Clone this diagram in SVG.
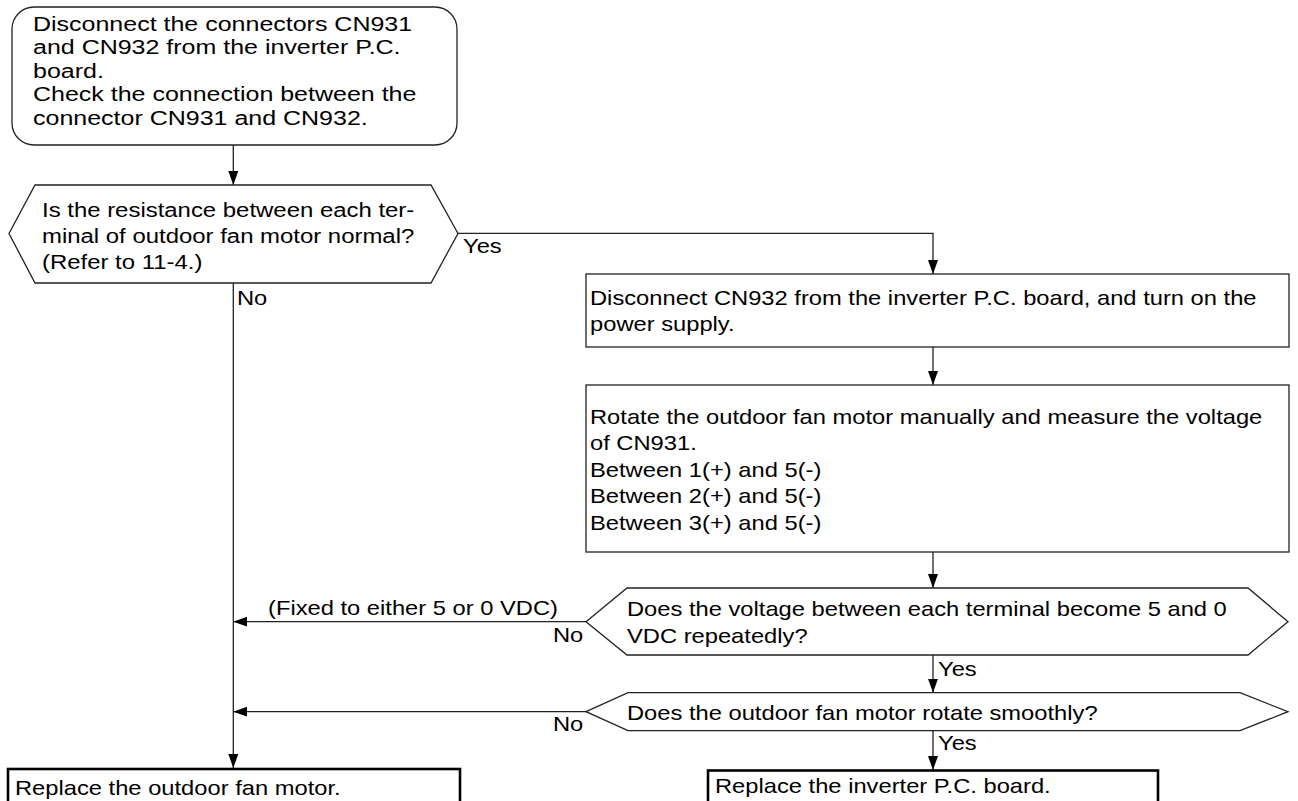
<svg xmlns="http://www.w3.org/2000/svg" width="1298" height="801" viewBox="0 0 1298 801">
<style>
.t{font-family:"Liberation Sans",Arial,sans-serif;font-size:21px;fill:#000}
.tt{font-family:"Liberation Sans",Arial,sans-serif;font-size:20px;fill:#000}
.s{fill:#fff;stroke:#222;stroke-width:1.3}
.b{fill:#fff;stroke:#000;stroke-width:2.6}
.c{fill:none;stroke:#222;stroke-width:1.3}
</style>
<defs>
<marker id="ah" markerUnits="userSpaceOnUse" markerWidth="16" markerHeight="12" refX="14" refY="5" orient="auto" viewBox="0 0 16 10">
<path d="M0,0 L14,5 L0,10 Z" fill="#000"/>
</marker>
</defs>
<rect width="1298" height="801" fill="#fff"/>

<g id="connectors">
<line class="c" x1="233.3" y1="145" x2="233.3" y2="185" marker-end="url(#ah)"/>
<polyline class="c" points="458,233.3 933,233.3 933,274" marker-end="url(#ah)"/>
<line class="c" x1="933" y1="347" x2="933" y2="385" marker-end="url(#ah)"/>
<line class="c" x1="933" y1="552" x2="933" y2="588" marker-end="url(#ah)"/>
<line class="c" x1="933" y1="655" x2="933" y2="692.7" marker-end="url(#ah)"/>
<line class="c" x1="933" y1="730.7" x2="933" y2="770" marker-end="url(#ah)"/>
<line class="c" x1="233.3" y1="283" x2="233.3" y2="768" marker-end="url(#ah)"/>
<line class="c" x1="586" y1="621.7" x2="233.3" y2="621.7" marker-end="url(#ah)"/>
<line class="c" x1="586" y1="711.7" x2="233.3" y2="711.7" marker-end="url(#ah)"/>
<text class="t" transform="translate(463,253) scale(1.13,1)">Yes</text>
<text class="t" transform="translate(237,305) scale(1.13,1)">No</text>
<text class="t" transform="translate(268,615) scale(1.13,1)">(Fixed to either 5 or 0 VDC)</text>
<text class="t" transform="translate(553,642) scale(1.13,1)">No</text>
<text class="t" transform="translate(553,731) scale(1.13,1)">No</text>
<text class="t" transform="translate(938,676) scale(1.13,1)">Yes</text>
<text class="t" transform="translate(938,750) scale(1.13,1)">Yes</text>
</g>

<g id="start">
<rect class="s" x="12" y="7" width="445" height="138" rx="22" ry="22"/>
<text class="tt" transform="translate(33,30.7) scale(1.25,1)"><tspan x="0" y="0">Disconnect the connectors CN931</tspan><tspan x="0" y="23.6">and CN932 from the inverter P.C.</tspan><tspan x="0" y="47.2">board.</tspan><tspan x="0" y="70.8">Check the connection between the</tspan><tspan x="0" y="94.4">connector CN931 and CN932.</tspan></text>
</g>

<g id="dec1">
<polygon class="s" points="9,233.5 35,185 431,185 458,233.5 431,283 35,283"/>
<text class="t" transform="translate(42,217) scale(1.14,1)"><tspan x="0" y="0">Is the resistance between each ter-</tspan><tspan x="0" y="26.5">minal of outdoor fan motor normal?</tspan><tspan x="0" y="52">(Refer to 11-4.)</tspan></text>
</g>

<g id="box1">
<rect class="s" x="586" y="274" width="703" height="73"/>
<text class="t" transform="translate(590,305) scale(1.13,1)"><tspan x="0" y="0">Disconnect CN932 from the inverter P.C. board, and turn on the</tspan><tspan x="0" y="26.5">power supply.</tspan></text>
</g>

<g id="box2">
<rect class="s" x="586" y="385" width="703" height="167"/>
<text class="t" transform="translate(590,424) scale(1.13,1)"><tspan x="0" y="0">Rotate the outdoor fan motor manually and measure the voltage</tspan><tspan x="0" y="26.5">of CN931.</tspan><tspan x="0" y="53">Between 1(+) and 5(-)</tspan><tspan x="0" y="79.5">Between 2(+) and 5(-)</tspan><tspan x="0" y="106">Between 3(+) and 5(-)</tspan></text>
</g>

<g id="dec2">
<polygon class="s" points="586,621.7 627,588 1248,588 1288,621.7 1248,655 627,655"/>
<text class="t" transform="translate(627,616) scale(1.13,1)"><tspan x="0" y="0">Does the voltage between each terminal become 5 and 0</tspan><tspan x="0" y="27">VDC repeatedly?</tspan></text>
</g>

<g id="dec3">
<polygon class="s" points="586,711.7 628,692.7 1240,692.7 1288,711.7 1240,730.7 628,730.7"/>
<text class="t" transform="translate(627,720) scale(1.13,1)">Does the outdoor fan motor rotate smoothly?</text>
</g>

<g id="end1">
<rect class="b" x="8" y="769" width="452" height="60"/>
<text class="t" transform="translate(15,795) scale(1.13,1)">Replace the outdoor fan motor.</text>
</g>

<g id="end2">
<rect class="b" x="708" y="770.5" width="450" height="60"/>
<text class="t" transform="translate(715,793) scale(1.13,1)">Replace the inverter P.C. board.</text>
</g>
</svg>
